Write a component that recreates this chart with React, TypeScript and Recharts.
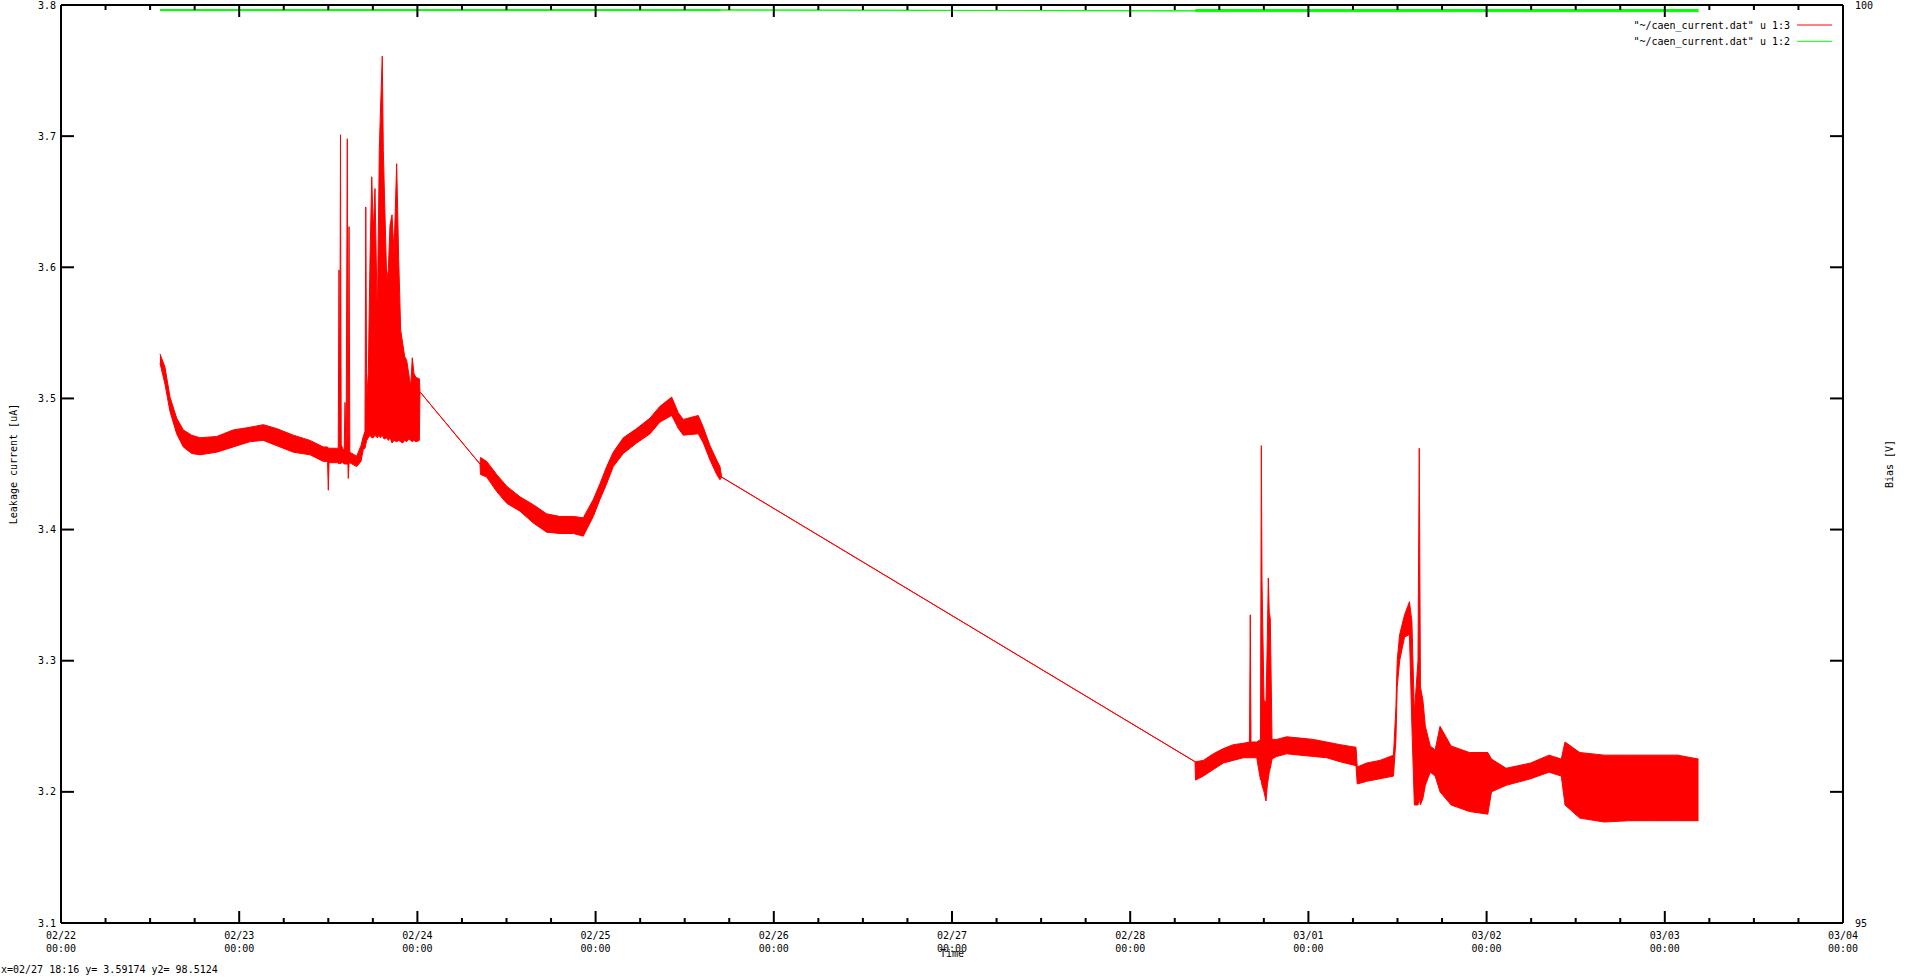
import React from 'react';
import { ComposedChart, Area, XAxis, YAxis, ReferenceLine } from 'recharts';

const W = 1920;
const H = 977;
const PLOT_LEFT = 61;
const PLOT_RIGHT = 1843;
const PLOT_TOP = 5;
const PLOT_BOTTOM = 923;
const FONT = '"DejaVu Sans Mono", monospace';

// x axis is hours since 02/22 00:00
const dayLabels = ['02/22', '02/23', '02/24', '02/25', '02/26', '02/27', '02/28', '03/01', '03/02', '03/03', '03/04'];
const currentTicks = [3.1, 3.2, 3.3, 3.4, 3.5, 3.6, 3.7, 3.8];
const biasTicks = [95, 100];
const seriesNames = ['"~/caen_current.dat" u 1:3', '"~/caen_current.dat" u 1:2'];
const statusText = 'x=02/27 18:16 y= 3.59174 y2= 98.5124';

// leakage current, low / high edge of the noisy trace
const redHours = [
  13.33, 14.0, 14.68, 15.58, 16.47, 17.6, 18.72, 20.97, 23.2, 25.45,
  27.25, 29.05, 31.29, 33.54, 35.33, 35.9, 36.0, 36.1, 37.13, 37.34,
  37.44, 37.54, 37.64, 37.74, 37.98, 38.15, 38.25, 38.4, 38.56, 38.64,
  38.69, 38.79, 38.9, 39.82, 40.4, 40.71, 40.94, 41.05, 41.17, 41.39,
  41.62, 41.85, 42.06, 42.29, 42.6, 42.87, 43.0, 43.27, 43.41, 43.54,
  43.87, 44.08, 44.31, 44.58, 44.85, 45.21, 45.48, 45.75, 46.02, 46.29,
  46.56, 46.83, 47.1, 47.31, 47.54, 47.81, 48.26, 48.35,
  56.43, 56.5, 57.33, 58.68, 60.03, 61.82, 63.61, 65.41, 67.2, 69.0,
  70.34, 71.69, 72.59, 73.49, 74.38, 75.73, 77.53, 79.33, 80.67, 82.25,
  83.14, 83.81, 85.83, 86.51, 87.41, 88.31, 88.75, 88.98,
  152.73, 152.8, 153.85, 155.19, 156.54, 157.89, 159.23, 160.07, 160.17, 160.27,
  161.04, 161.55, 161.66, 161.75, 162.02, 162.29, 162.47, 162.6, 162.73, 162.87,
  163.1, 163.73, 165.08, 166.87, 168.66, 170.46, 172.25, 174.41, 174.58, 175.85,
  177.64, 179.46, 179.79, 179.96, 180.29, 180.95, 181.61, 181.94, 182.27, 182.76,
  182.93, 183.09, 183.42, 183.75, 184.41, 185.07, 185.73, 187.22, 189.69, 192.16,
  192.66, 194.64, 197.94, 200.41, 202.06, 202.56, 204.54, 207.84, 211.13, 214.43,
  217.73, 220.54,
];
const redLow = [
  3.527, 3.511, 3.490, 3.473, 3.463, 3.458, 3.457, 3.459, 3.463, 3.467,
  3.468, 3.464, 3.459, 3.457, 3.452, 3.452, 3.430, 3.451, 3.451, 3.451,
  3.450, 3.451, 3.450, 3.451, 3.451, 3.450, 3.450, 3.450, 3.450, 3.450,
  3.439, 3.450, 3.451, 3.448, 3.452, 3.461, 3.462, 3.465, 3.468, 3.470,
  3.472, 3.470, 3.470, 3.472, 3.470, 3.472, 3.470, 3.472, 3.470, 3.469,
  3.470, 3.468, 3.470, 3.466, 3.468, 3.467, 3.468, 3.467, 3.466, 3.468,
  3.467, 3.469, 3.468, 3.467, 3.468, 3.467, 3.468, 3.505,
  3.450, 3.442, 3.440, 3.429, 3.420, 3.414, 3.405, 3.398, 3.397, 3.397,
  3.395, 3.410, 3.423, 3.435, 3.448, 3.458, 3.466, 3.473, 3.482, 3.487,
  3.477, 3.472, 3.473, 3.466, 3.453, 3.442, 3.438, 3.440,
  3.223, 3.209, 3.212, 3.217, 3.222, 3.224, 3.226, 3.226, 3.226, 3.226,
  3.226, 3.209, 3.209, 3.205, 3.200, 3.193, 3.205, 3.210, 3.215, 3.218,
  3.225, 3.227, 3.229, 3.228, 3.227, 3.226, 3.223, 3.220, 3.206, 3.208,
  3.210, 3.212, 3.240, 3.280, 3.300, 3.318, 3.320, 3.250, 3.190, 3.190,
  3.195, 3.190, 3.195, 3.205, 3.215, 3.212, 3.200, 3.190, 3.185, 3.183,
  3.200, 3.205, 3.210, 3.215, 3.212, 3.190, 3.180, 3.177, 3.178, 3.178,
  3.178, 3.178,
];
const redHigh = [
  3.534, 3.524, 3.501, 3.485, 3.476, 3.472, 3.470, 3.471, 3.476, 3.478,
  3.480, 3.477, 3.472, 3.468, 3.463, 3.463, 3.462, 3.462, 3.462, 3.462,
  3.598, 3.470, 3.701, 3.465, 3.461, 3.462, 3.497, 3.460, 3.698, 3.470,
  3.470, 3.631, 3.459, 3.456, 3.464, 3.471, 3.475, 3.646, 3.500, 3.519,
  3.607, 3.669, 3.628, 3.660, 3.560, 3.689, 3.715, 3.761, 3.689, 3.661,
  3.590, 3.598, 3.632, 3.640, 3.611, 3.679, 3.606, 3.552, 3.542, 3.532,
  3.529, 3.519, 3.509, 3.531, 3.519, 3.516, 3.515, 3.505,
  3.450, 3.455, 3.452, 3.442, 3.433, 3.425, 3.419, 3.412, 3.410, 3.410,
  3.409, 3.423, 3.435, 3.448, 3.459, 3.470, 3.477, 3.485, 3.494, 3.501,
  3.489, 3.484, 3.487, 3.478, 3.464, 3.453, 3.448, 3.440,
  3.223, 3.223, 3.224, 3.229, 3.233, 3.236, 3.237, 3.238, 3.335, 3.238,
  3.238, 3.240, 3.464, 3.362, 3.270, 3.268, 3.317, 3.363, 3.337, 3.332,
  3.240, 3.240, 3.242, 3.241, 3.240, 3.238, 3.236, 3.234, 3.219, 3.222,
  3.224, 3.228, 3.265, 3.300, 3.320, 3.335, 3.345, 3.330, 3.260, 3.300,
  3.462, 3.280, 3.270, 3.250, 3.235, 3.232, 3.250, 3.235, 3.230, 3.230,
  3.225, 3.218, 3.222, 3.228, 3.225, 3.238, 3.230, 3.228, 3.228, 3.228,
  3.228, 3.225,
];

// bias voltage
const greenHours = [13.33, 88.75, 88.98, 152.73, 152.8, 220.54];
const greenLow = [99.970, 99.970, 99.973, 99.968, 99.964, 99.964];
const greenHigh = [99.975, 99.975, 99.973, 99.968, 99.975, 99.975];

const redRows = redHours.map((h, i) => ({ h, band: [redLow[i], redHigh[i]] }));
const greenRows = greenHours.map((h, i) => ({ h, band: [greenLow[i], greenHigh[i]] }));

// major tick each day, minor every 6 hours
const timeTicks = dayLabels.flatMap((_, i) =>
  i < dayLabels.length - 1 ? [i * 24, i * 24 + 6, i * 24 + 12, i * 24 + 18] : [i * 24]
);

const TimeTick = (props: any) => {
  const { x, y, payload } = props;
  const v = payload.value;
  const major = v % 24 === 0;
  const len = major ? 12 : 5;
  return (
    <g>
      <line x1={x} y1={y} x2={x} y2={y - len} stroke="#000" strokeWidth={2} />
      <line x1={x} y1={PLOT_TOP} x2={x} y2={PLOT_TOP + len} stroke="#000" strokeWidth={2} />
      {major && (
        <text fontFamily={FONT} fontSize={10} fill="#000" textAnchor="middle">
          <tspan x={x} y={y + 16}>{dayLabels[v / 24]}</tspan>
          <tspan x={x} y={y + 29}>00:00</tspan>
        </text>
      )}
    </g>
  );
};

const CurrentTick = (props: any) => {
  const { y, payload } = props;
  return (
    <g>
      <line x1={PLOT_LEFT} y1={y} x2={PLOT_LEFT + 13} y2={y} stroke="#000" strokeWidth={2} />
      <line x1={PLOT_RIGHT} y1={y} x2={PLOT_RIGHT - 13} y2={y} stroke="#000" strokeWidth={2} />
      <text x={PLOT_LEFT - 5} y={y + 3.5} fontFamily={FONT} fontSize={10} fill="#000" textAnchor="end">
        {payload.value.toFixed(1)}
      </text>
    </g>
  );
};

const BiasTick = (props: any) => {
  const { y, payload } = props;
  return (
    <text x={PLOT_RIGHT + 12} y={y + 3.5} fontFamily={FONT} fontSize={10} fill="#000" textAnchor="start">
      {payload.value}
    </text>
  );
};

const App = () => {
  const midX = (PLOT_LEFT + PLOT_RIGHT) / 2;
  const midY = (PLOT_TOP + PLOT_BOTTOM) / 2;
  return (
    <div style={{ position: 'absolute', left: 0, top: 0, width: W, height: H, background: '#fff' }}>
      <ComposedChart width={W} height={H} margin={{ top: PLOT_TOP, right: 0, bottom: 0, left: 0 }}>
        <XAxis
          dataKey="h"
          type="number"
          domain={[0, 240]}
          ticks={timeTicks}
          interval={0}
          height={H - PLOT_BOTTOM}
          tickSize={0}
          tickMargin={0}
          tickLine={false}
          axisLine={{ stroke: '#000', strokeWidth: 2 }}
          tick={TimeTick}
          allowDataOverflow
        />
        <YAxis
          yAxisId="left"
          type="number"
          domain={[3.1, 3.8]}
          ticks={currentTicks}
          interval={0}
          width={PLOT_LEFT}
          tickSize={0}
          tickMargin={0}
          tickLine={false}
          axisLine={{ stroke: '#000', strokeWidth: 2 }}
          tick={CurrentTick}
          allowDataOverflow
        />
        <YAxis
          yAxisId="right"
          orientation="right"
          type="number"
          domain={[95, 100]}
          ticks={biasTicks}
          interval={0}
          width={W - PLOT_RIGHT}
          tickSize={0}
          tickMargin={0}
          tickLine={false}
          axisLine={{ stroke: '#000', strokeWidth: 2 }}
          tick={BiasTick}
          allowDataOverflow
        />
        <ReferenceLine yAxisId="left" y={3.8} stroke="#000" strokeWidth={2} />
        <Area
          yAxisId="left"
          data={redRows}
          dataKey="band"
          type="linear"
          stroke="#ff0000"
          strokeWidth={1}
          fill="#ff0000"
          fillOpacity={1}
          dot={false}
          activeDot={false}
          isAnimationActive={false}
        />
        <Area
          yAxisId="right"
          data={greenRows}
          dataKey="band"
          type="linear"
          stroke="#00ff00"
          strokeWidth={1}
          fill="#00ff00"
          fillOpacity={1}
          dot={false}
          activeDot={false}
          isAnimationActive={false}
        />
      </ComposedChart>
      <svg
        width={W}
        height={H}
        style={{ position: 'absolute', left: 0, top: 0, pointerEvents: 'none' }}
        fontFamily={FONT}
        fontSize={10}
        fill="#000"
      >
        <text x={midX} y={957} textAnchor="middle">Time</text>
        <text transform={`translate(17,${midY}) rotate(-90)`} textAnchor="middle">Leakage current [uA]</text>
        <text transform={`translate(1893,${midY}) rotate(-90)`} textAnchor="middle">Bias [V]</text>
        {seriesNames.map((name, i) => (
          <g key={name}>
            <text x={1790} y={28.5 + i * 16.3} textAnchor="end">{name}</text>
            <line
              x1={1797}
              x2={1832}
              y1={25 + i * 16.3}
              y2={25 + i * 16.3}
              stroke={i === 0 ? '#ff0000' : '#00ff00'}
              strokeWidth={1}
            />
          </g>
        ))}
        <text x={1} y={972.5}>{statusText}</text>
      </svg>
    </div>
  );
};

export default App;
